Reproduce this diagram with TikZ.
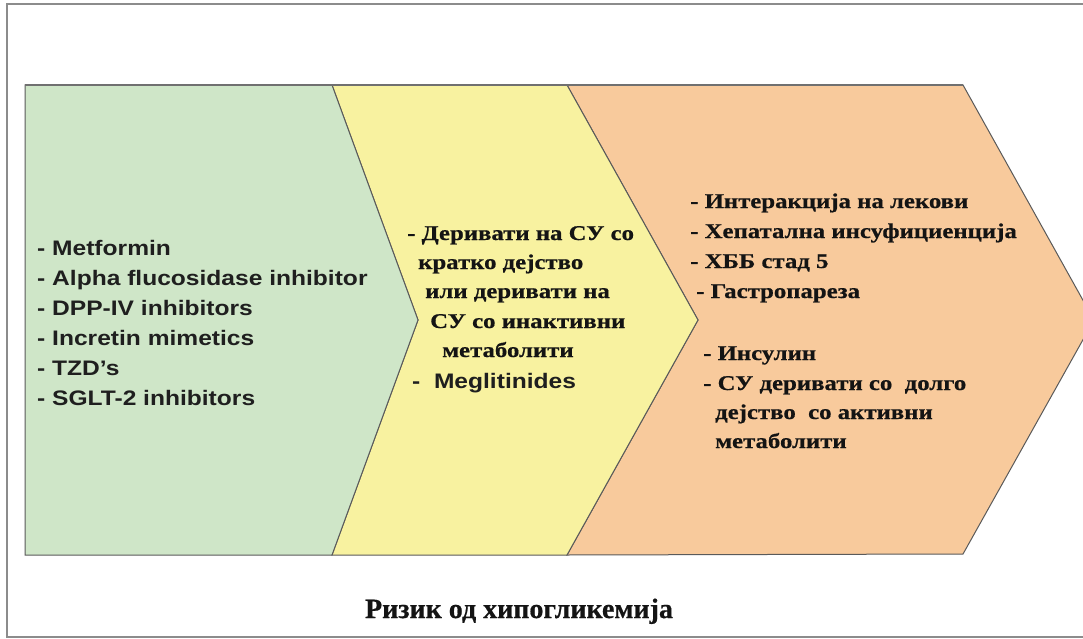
\documentclass[tikz,border=0pt]{standalone}
\usepackage{fontspec}
\setmainfont{Liberation Serif}
\newfontfamily\sansB[FakeStretch=1.17]{Liberation Sans}
\newfontfamily\serifB[FakeStretch=1.18,FakeBold=0.6]{Liberation Serif}
\newfontfamily\capfont[FakeBold=0.6]{Liberation Serif}
\definecolor{cgreen}{HTML}{CFE6C8}
\definecolor{cyellow}{HTML}{F8F2A0}
\definecolor{corange}{HTML}{F8CA9C}
\definecolor{cline}{HTML}{5A5A5A}
\definecolor{cframe}{HTML}{8C8C8C}
\tikzset{
  panel/.style={draw=cline, line width=1pt, line join=miter},
  lt/.style={anchor=base west, inner sep=0pt, font=\sansB\bfseries\fontsize{21}{24}\selectfont, text=black!88},
  mt/.style={anchor=base west, inner sep=0pt, font=\serifB\bfseries\fontsize{21}{24}\selectfont, text=black!92},
  capt/.style={anchor=base, inner sep=0pt, font=\capfont\bfseries\fontsize{28}{32}\selectfont, text=black!92}
}
\begin{document}
\begin{tikzpicture}[x=1pt,y=-1pt]
\useasboundingbox (0,0) rectangle (1083,639);
\fill[white] (0,0) rectangle (1083,639);
\draw[cframe, line width=2pt] (1090,4.5) -- (7,4.5) -- (7,637) -- (1090,637);
% panels
\draw[panel, fill=corange] (567,85) -- (963,85) -- (1094,320) -- (963,554) -- (567,555) -- (698,320) -- cycle;
\draw[panel, fill=cyellow] (332,85) -- (567,85) -- (698,320) -- (567,555) -- (332,555) -- (418,320) -- cycle;
\draw[panel, fill=cgreen] (25,85) -- (332,85) -- (418,320) -- (332,555) -- (25,555) -- cycle;
\draw[cframe!80!black, line width=1.6pt] (25,85) -- (963,85);
% left column
\node[lt] (l1) at (37,255) {- Metformin};
\node[lt] (l2) at (37,285) {- Alpha flucosidase inhibitor};
\node[lt] (l3) at (37,315) {- DPP-IV inhibitors};
\node[lt] (l4) at (37,345) {- Incretin mimetics};
\node[lt] (l5) at (37,375) {- TZD’s};
\node[lt] (l6) at (37,405) {- SGLT-2 inhibitors};
% middle column
\node[mt] (m1) at (407,240) {- Деривати на СУ со};
\node[mt] (m2) at (418,269) {кратко дејство};
\node[mt] (m3) at (425,298) {или деривати на};
\node[mt] (m4) at (430,328) {СУ со инактивни};
\node[mt] (m5) at (442,357) {метаболити};
\node[lt] (m6) at (412,388) {-\ \ Meglitinides};
% right column
\node[mt] (r1) at (690,208) {- Интеракција на лекови};
\node[mt] (r2) at (690,238) {- Хепатална инсуфициенција};
\node[mt] (r3) at (690,268) {- ХББ стад 5};
\node[mt] (r4) at (696,298) {- Гастропареза};
\node[mt] (r5) at (703,360) {- Инсулин};
\node[mt] (r6) at (703,390) {- СУ деривати со\ \ долго};
\node[mt] (r7) at (715,419) {дејство\ \ со активни};
\node[mt] (r8) at (715,448) {метаболити};
% caption
\node[capt] (cap) at (519,618) {Ризик од хипогликемија};
\end{tikzpicture}
\end{document}
